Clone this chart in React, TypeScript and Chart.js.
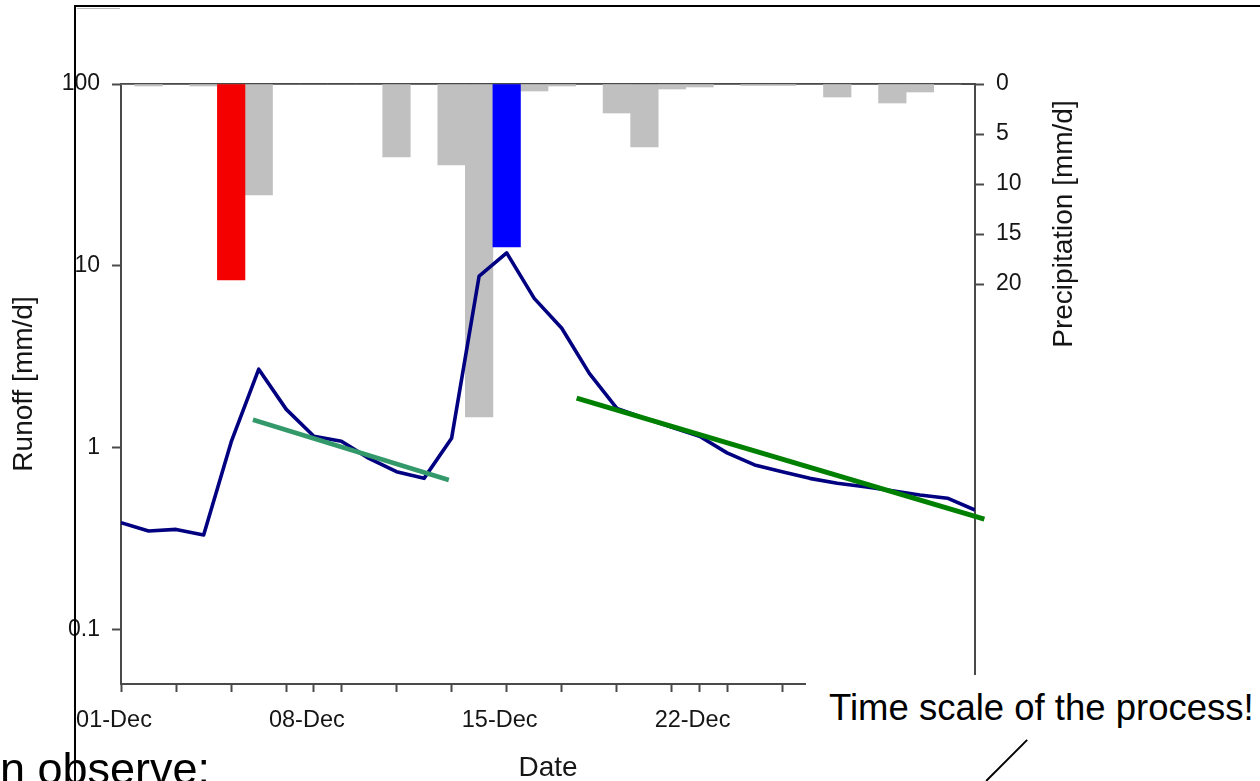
import React, { useEffect, useRef } from 'react';
import { Chart, registerables } from 'chart.js';

Chart.register(...registerables);

// ---- data (day index 0 = 01-Dec) ----
const runoffDays = [0, 1, 2, 3, 4, 5, 6, 7, 8, 9, 10, 11, 12, 13, 14, 15, 16, 17, 18, 19, 20, 21, 22, 23, 24, 25, 26, 27, 28, 29, 30, 31];
const runoff = [0.389, 0.35, 0.357, 0.333, 1.08, 2.71, 1.63, 1.16, 1.09, 0.877, 0.741, 0.681, 1.13, 8.81, 11.8, 6.64, 4.55, 2.57, 1.65, 1.46, 1.3, 1.16, 0.94, 0.807, 0.741, 0.681, 0.64, 0.613, 0.582, 0.552, 0.53, 0.456];

const precipDays = [0, 1, 2, 3, 4, 5, 6, 7, 8, 9, 10, 11, 12, 13, 14, 15, 16, 17, 18, 19, 20, 21, 22, 23, 24, 25, 26, 27, 28, 29, 30];
const precip = [0, 0.2, 0, 0.2, 0, 11.1, 0, 0, 0, 0, 7.3, 0, 8.1, 33.3, 0, 0.7, 0.2, 0, 2.9, 6.3, 0.5, 0.3, 0, 0.15, 0.15, 0, 1.3, 0, 1.9, 0.8, 0];

const redEventDays = [4];
const redEventPrecip = [19.6];
const blueEventDays = [14];
const blueEventPrecip = [16.3];

const trend1Days = [4.79, 11.9];
const trend1Runoff = [1.43, 0.667];
const trend2Days = [16.54, 31.34];
const trend2Runoff = [1.88, 0.407];

const xTickDays = [0, 2, 4, 6, 7, 8, 10, 12, 14, 16, 18, 20, 21, 22, 24, 26, 28, 30];
const xLabelDays = [0, 7, 14, 21];
const xLabels = ['01-Dec', '08-Dec', '15-Dec', '22-Dec'];
const yTickValues = [0.1, 1, 10, 100];
const yTickLabels = ['0.1', '1', '10', '100'];
const y1TickValues = [0, 5, 10, 15, 20];
const y1TickLabels = ['0', '5', '10', '15', '20'];

const FONT = "'Liberation Sans', Arial, sans-serif";
const AXIS = '#4a4a4a';
const TEXT = '#151515';

const pts = (xs: number[], ys: number[]) => xs.map((x, i) => ({ x, y: ys[i] }));

export default function App() {
  const ref = useRef<HTMLCanvasElement | null>(null);

  useEffect(() => {
    if (!ref.current) return;
    const extraTitles = {
      id: 'extraTitles',
      afterDraw(chart: any) {
        const { ctx, scales } = chart;
        ctx.save();
        ctx.fillStyle = TEXT;
        ctx.font = `28px ${FONT}`;
        ctx.textAlign = 'center';
        ctx.textBaseline = 'middle';
        ctx.fillText('Date', scales.x.getPixelForValue(15.5), 768);
        ctx.translate(1064, scales.y1.getPixelForValue(14));
        ctx.rotate(-Math.PI / 2);
        ctx.fillText('Precipitation [mm/d]', 0, 0);
        ctx.restore();
      },
    };

    const barCommon = {
      type: 'bar' as const,
      xAxisID: 'x',
      yAxisID: 'y1',
      grouped: false,
      barPercentage: 1,
      categoryPercentage: 1,
      borderWidth: 0,
    };

    const chart = new Chart(ref.current, {
      data: {
        datasets: [
          { ...barCommon, data: pts(precipDays, precip), backgroundColor: '#c0c0c0', order: 3 },
          { ...barCommon, data: pts(redEventDays, redEventPrecip), backgroundColor: '#f50000', order: 2 },
          { ...barCommon, data: pts(blueEventDays, blueEventPrecip), backgroundColor: '#0000ff', order: 2 },
          {
            type: 'line', xAxisID: 'x', yAxisID: 'y', data: pts(runoffDays, runoff),
            borderColor: '#000080', borderWidth: 3.6, pointRadius: 0, tension: 0, order: 1,
            borderJoinStyle: 'round',
          },
          {
            type: 'line', xAxisID: 'x', yAxisID: 'y', data: pts(trend1Days, trend1Runoff),
            borderColor: '#33996a', borderWidth: 4.5, pointRadius: 0, order: 0, clip: false as any,
          },
          {
            type: 'line', xAxisID: 'x', yAxisID: 'y', data: pts(trend2Days, trend2Runoff),
            borderColor: '#008000', borderWidth: 5, pointRadius: 0, order: 0, clip: false as any,
          },
        ] as any,
      },
      options: {
        animation: false,
        responsive: false,
        maintainAspectRatio: false,
        layout: { padding: { left: 0, right: 0, top: 84, bottom: 0 } },
        plugins: { legend: { display: false }, tooltip: { enabled: false }, title: { display: false } },
        scales: {
          x: {
            type: 'linear', position: 'bottom', min: 0, max: 31, offset: false,
            afterBuildTicks: (s: any) => { s.ticks = xTickDays.map((v) => ({ value: v })); },
            afterFit: (s: any) => { s.height = 97; },
            ticks: {
              autoSkip: false, maxRotation: 0, padding: 14, color: TEXT, labelOffset: -7,
              font: { family: FONT, size: 23.5 },
              callback: (v: any) => { const i = xLabelDays.indexOf(Number(v)); return i >= 0 ? xLabels[i] : ''; },
            },
            grid: { offset: false, drawOnChartArea: false, drawTicks: true, tickLength: 8, tickColor: AXIS, tickWidth: 2 },
            border: { display: true, color: AXIS, width: 2 },
          },
          xTop: {
            type: 'linear', position: 'top', min: 0, max: 31, offset: false,
            afterFit: (s: any) => { s.height = 0; },
            ticks: { display: false },
            grid: { offset: false, display: false, drawTicks: false },
            border: { display: true, color: AXIS, width: 2 },
          },
          y: {
            type: 'logarithmic', position: 'left', min: 0.0505, max: 100,
            afterBuildTicks: (s: any) => { s.ticks = yTickValues.map((v) => ({ value: v })); },
            afterFit: (s: any) => { s.width = 121; },
            ticks: {
              padding: 12, color: TEXT, font: { family: FONT, size: 23 },
              callback: (v: any) => { const i = yTickValues.indexOf(Number(v)); return i >= 0 ? yTickLabels[i] : ''; },
            },
            grid: { drawOnChartArea: false, drawTicks: true, tickLength: 9, tickColor: AXIS, tickWidth: 2 },
            border: { display: true, color: AXIS, width: 2 },
            title: {
              display: true, text: 'Runoff [mm/d]', color: TEXT,
              font: { family: FONT, size: 28, lineHeight: 1 }, padding: { top: 10, bottom: 0 },
            },
          },
          y1: {
            type: 'linear', position: 'right', reverse: true, min: 0, max: 60,
            afterBuildTicks: (s: any) => { s.ticks = y1TickValues.map((v) => ({ value: v })); },
            afterFit: (s: any) => { s.width = 285; },
            ticks: {
              padding: 12, color: TEXT, font: { family: FONT, size: 23 },
              callback: (v: any) => { const i = y1TickValues.indexOf(Number(v)); return i >= 0 ? y1TickLabels[i] : ''; },
            },
            grid: { drawOnChartArea: false, drawTicks: true, tickLength: 9, tickColor: AXIS, tickWidth: 2 },
            border: { display: true, color: AXIS, width: 2 },
          },
        },
      } as any,
      plugins: [extraTitles],
    });
    return () => chart.destroy();
  }, []);

  return (
    <div style={{ position: 'fixed', left: 0, top: 0, width: 1260, height: 781, overflow: 'hidden', background: '#fff' }}>
      <canvas ref={ref} width={1260} height={781} style={{ position: 'absolute', left: 0, top: 0, width: 1260, height: 781 }} />
      {/* slide frame */}
      <div style={{ position: 'absolute', left: 74, top: 5, width: 2, height: 776, background: '#000' }} />
      <div style={{ position: 'absolute', left: 74, top: 5, width: 1186, height: 2, background: '#000' }} />
      <div style={{ position: 'absolute', left: 77, top: 8, width: 43, height: 1, background: '#bbb' }} />
      {/* annotation box */}
      <div style={{ position: 'absolute', left: 806, top: 675, width: 454, height: 66, background: '#fff' }}>
        <div style={{ position: 'absolute', left: 23, top: 15, font: `36.5px ${FONT}`, lineHeight: '36.5px', color: '#000', whiteSpace: 'nowrap' }}>
          Time scale of the process!
        </div>
      </div>
      <div style={{ position: 'absolute', left: 986, top: 780, width: 58, height: 1.5, background: '#000', transformOrigin: '0 50%', transform: 'rotate(-45deg)' }} />
      <div style={{ position: 'absolute', left: 0, top: 746, font: `45px ${FONT}`, lineHeight: '45px', color: '#000', whiteSpace: 'nowrap' }}>
        n observe:
      </div>
    </div>
  );
}
